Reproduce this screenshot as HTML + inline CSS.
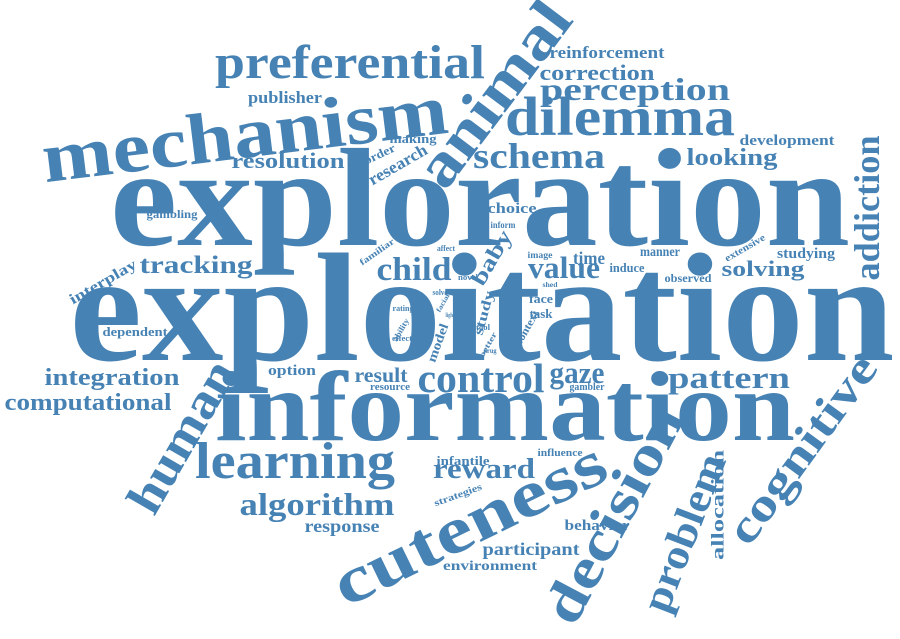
<!DOCTYPE html>
<html><head><meta charset="utf-8">
<style>
html,body{margin:0;padding:0;background:#fff;}
svg{display:block;}
text{font-family:"Liberation Serif",serif;font-weight:bold;fill:#4682b4;}
</style></head>
<body>
<svg id="cloud" width="900" height="639" viewBox="0 0 900 639"></svg>
<script>
// word, font size (weight), center x, baseline/center y, rotation, rendered length
const words=["exploration","exploitation","information","mechanism","preferential","animal","dilemma","perception","reinforcement","correction","publisher","making","resolution","disorder","research","schema","looking","development","addiction","gambling","choice","inform","familiar","affect","baby","image","time","manner","extensive","studying","induce","observed","solving","interplay","tracking","child","value","novel","shed","solve","rating","facial","face","task","light","study","ability","effect","tool","context","better","drug","dependent","model","integration","option","result","control","gaze","pattern","resource","gambler","computational","human","cognitive","learning","infantile","influence","reward","decision","problem","allocation","strategies","algorithm","cuteness","response","behavior","participant","environment"];
const sizes=[140,155,100,72,48,62,55,32,17,22,17,13,22,12,17,36,24,15,36,12,15,9,9,8,22,9,18,14,10,15,13,12,22,15,25,33,31,8,7,8,8,7,13,13,6,14,8,8,8,11,8,7,13,13,24,15,21,41,31,31,11,11,24,50,46,52,13,10,28,56,42,18,10,32,66,18,15,18,14];
const xs=[480,482,505,245,350,495,620,635,607,597,285,413,288,372,398,539,732,787,868,172,512,503,377,446,492,540,589,660,745,806,627,688,763,103,196,414,564,468,550,440,403,443,541,541,450,484,401,402,483,527,488,490,135,438,112,292,381,481,577,729,390,587,88,183,803,295,463,560,484,615,685,718,458,317,470,342,597,531,490];
const ys=[245,360,440,136,78,95,135,100,58,80,103,143,168,158,165,168,165,145,208,218,213,228,252,251,258,258,264,256,248,258,272,282,276,282,273,280,278,280,287,295,311,303,303,318,317,313,330,341,330,328,345,353,336,343,385,375,382,392,383,388,390,390,410,437,450,478,465,456,478,515,533,505,495,515,525,532,530,555,570];
const rots=[0,0,0,-7,0,-53,0,0,0,0,0,0,0,-25,-30,0,0,0,-90,0,0,0,-35,0,-60,0,0,0,-30,0,0,0,0,-30,0,0,0,0,0,0,0,-60,0,0,0,-75,-60,0,0,-60,-60,0,0,-70,0,0,0,0,0,0,0,0,0,-60,-54,0,0,0,0,-62,-69,-90,-20,0,-26,0,0,0,0];
const lens=[740,825,580,408,270,215,230,190,115,115,74,47,113,50,65,132,91,95,145,51,49,25,40,18,60,25,32,40,45,58,35,47,83,75,113,75,72,20,15,15,21,20,24,23,9,45,25,20,14,38,28,13,65,40,135,48,53,127,55,122,40,35,167,168,222,200,53,45,102,238,166,110,50,155,296,75,65,97,94];
const svg=document.getElementById('cloud');
const NS='http://www.w3.org/2000/svg';
for(let i=0;i<words.length;i++){
  const t=document.createElementNS(NS,'text');
  
  
  const s=sizes[i];
  const rotated=rots[i]!==0;
  const y=rotated?ys[i]+s*0.3:ys[i];
  t.setAttribute('x',xs[i]);
  t.setAttribute('y',y);
  t.setAttribute('font-size',s);
  t.setAttribute('text-anchor','middle');
  t.setAttribute('textLength',lens[i]);
  t.setAttribute('lengthAdjust','spacingAndGlyphs');
  if(rotated) t.setAttribute('transform','rotate('+rots[i]+' '+xs[i]+' '+ys[i]+')');
  t.textContent=words[i];
  svg.appendChild(t);
}
</script>
</body></html>
